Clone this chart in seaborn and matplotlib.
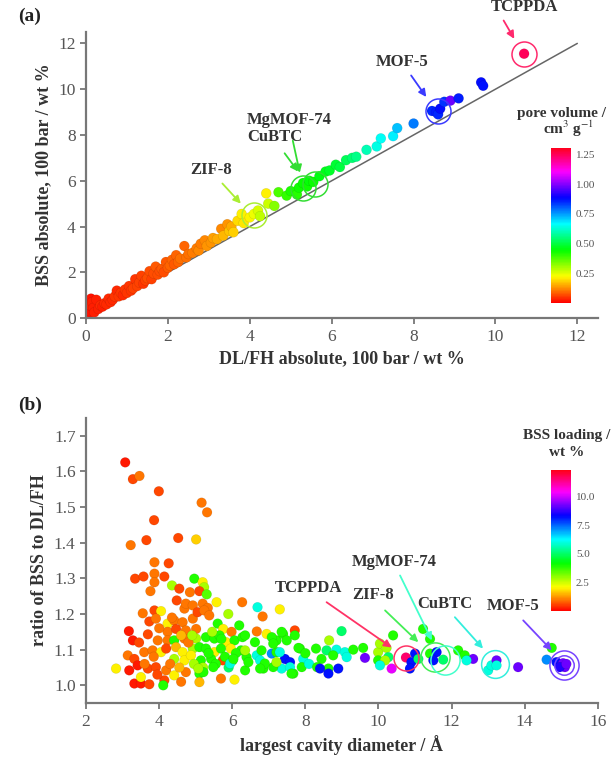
import numpy as np
import pandas as pd
import matplotlib
matplotlib.use('Agg')
import matplotlib.pyplot as plt
import seaborn as sns

# (a) absolute loadings at 100 bar, coloured by pore volume
a_dlfh = [0.05, 0.08, 0.10, 0.12, 0.15, 0.18, 0.20, 0.25, 0.30, 0.35, 0.40, 0.45, 0.50, 0.55, 0.60,
          0.65, 0.70, 0.75, 0.80, 0.85, 0.90, 0.95, 1.00, 1.05, 1.10, 1.15, 1.20, 1.25, 1.30, 1.35,
          1.40, 1.45, 1.50, 1.55, 1.60, 1.65, 1.70, 1.75, 1.80, 1.85, 1.90, 1.95, 2.00, 2.05, 2.10,
          2.15, 2.20, 2.25, 2.30, 2.40, 2.45, 2.50, 2.60, 2.70, 2.75, 2.80, 2.90, 2.95, 3.05, 3.10,
          3.20, 3.30, 3.35, 3.45, 3.50, 3.55, 3.60, 3.70, 3.80, 3.85, 4.00, 4.10, 4.20, 4.25, 4.40,
          4.45, 4.60, 4.70, 4.90, 5.00, 5.15, 5.20, 5.30, 5.40, 5.45, 5.55, 5.70, 5.85, 5.95, 6.10,
          6.20, 6.35, 6.50, 6.60, 6.85, 7.10, 7.20, 7.50, 7.60, 8.00, 8.45, 8.55, 8.60, 8.65, 8.75,
          8.90, 9.10, 9.65, 9.70, 10.70]
a_bss = [0.10, 0.30, 0.55, 0.85, 0.70, 0.45, 0.25, 0.80, 0.40, 0.55, 0.50, 0.65, 0.60, 0.85, 0.70,
         0.80, 0.95, 1.20, 0.95, 1.10, 1.00, 1.25, 1.10, 1.40, 1.20, 1.30, 1.70, 1.40, 1.55, 1.85,
         1.50, 1.65, 1.75, 2.05, 1.70, 1.95, 2.25, 1.90, 2.05, 2.15, 2.00, 2.45, 2.20, 2.30, 2.55,
         2.35, 2.75, 2.45, 2.60, 3.15, 2.65, 2.80, 2.85, 3.05, 2.95, 3.25, 3.40, 3.15, 3.30, 3.50,
         3.45, 3.90, 3.60, 4.10, 3.80, 4.00, 3.75, 4.25, 4.55, 4.15, 4.40, 4.55, 4.70, 4.45, 5.45,
         5.00, 4.90, 5.50, 5.35, 5.55, 5.40, 5.70, 5.90, 5.75, 6.00, 5.95, 6.20, 6.40, 6.45, 6.70,
         6.60, 6.90, 7.00, 7.05, 7.35, 7.50, 7.85, 7.95, 8.30, 8.50, 9.05, 9.00, 8.90, 9.15, 9.45,
         9.50, 9.60, 10.30, 10.15, 11.55]
a_pore = [0.02, 0.02, 0.03, 0.02, 0.03, 0.03, 0.03, 0.03, 0.03, 0.04, 0.03, 0.04, 0.04, 0.04, 0.04,
          0.04, 0.05, 0.04, 0.05, 0.05, 0.04, 0.05, 0.05, 0.05, 0.05, 0.06, 0.05, 0.06, 0.06, 0.06,
          0.05, 0.06, 0.07, 0.07, 0.06, 0.07, 0.08, 0.07, 0.07, 0.08, 0.07, 0.08, 0.08, 0.09, 0.09,
          0.08, 0.09, 0.09, 0.10, 0.09, 0.10, 0.10, 0.11, 0.11, 0.12, 0.11, 0.12, 0.13, 0.13, 0.14,
          0.15, 0.12, 0.16, 0.13, 0.17, 0.15, 0.18, 0.19, 0.21, 0.20, 0.22, 0.24, 0.26, 0.28, 0.21,
          0.27, 0.33, 0.38, 0.40, 0.42, 0.41, 0.43, 0.44, 0.43, 0.45, 0.44, 0.46, 0.47, 0.48, 0.49,
          0.50, 0.52, 0.54, 0.56, 0.60, 0.64, 0.66, 0.68, 0.72, 0.78, 0.85, 0.86, 0.85, 0.88, 0.84,
          0.98, 0.86, 0.88, 0.87, 1.25]

# (b) ratio BSS / DL-FH vs largest cavity diameter, coloured by BSS loading
b_lcd = [3.07, 3.28, 3.46, 3.99, 5.16, 5.31, 3.86, 3.22, 3.65, 4.52, 5.01, 3.87, 4.26, 3.34, 3.57,
         3.87, 4.14, 3.87, 3.76, 4.35, 4.55, 4.84, 4.96, 5.19, 5.23, 5.10, 5.30, 4.48, 4.69, 4.73,
         4.92, 5.19, 5.33, 5.57, 6.27, 5.89, 3.55, 3.87, 4.05, 3.73, 3.91, 3.17, 3.28, 3.69, 4.23,
         4.41, 4.64, 4.92, 5.05, 5.23, 5.37, 5.60, 5.75, 5.98, 6.19, 4.23, 4.46, 4.73, 5.01, 3.96,
         4.23, 4.41, 4.69, 5.01, 5.28, 5.51, 5.65, 5.83, 6.06, 6.28, 3.14, 3.32, 3.59, 3.82, 4.05,
         4.19, 4.46, 4.64, 4.92, 5.10, 5.28, 5.51, 5.69, 5.96, 6.24, 2.82, 3.18, 3.41, 3.69, 3.91,
         4.19, 4.41, 4.69, 4.87, 5.14, 5.42, 5.74, 6.01, 3.32, 3.50, 3.73, 3.50, 4.14, 4.11, 4.41,
         4.73, 5.10, 5.10, 5.69, 6.06, 4.30, 4.55, 4.80, 4.60, 5.20, 5.35, 5.55, 5.80, 5.90, 4.95,
         3.60, 3.85, 4.00, 4.35, 4.90, 5.45, 5.70, 6.10, 3.45, 3.95, 4.60,
         6.69, 6.83, 7.30, 6.67, 6.94, 7.71, 7.71, 6.35, 6.62, 7.21, 7.39, 7.08, 6.67, 7.44, 7.58,
         7.35, 7.94, 7.67, 7.90, 6.35, 6.85, 5.94, 6.03, 6.39, 6.76, 7.12, 5.48, 5.21, 5.07, 7.21,
         7.49, 7.85, 6.35, 6.80, 7.30, 6.44, 6.89, 7.21, 7.58, 6.76, 7.62, 7.35, 7.08, 7.12, 7.81,
         8.00, 8.10,
         8.99, 8.65, 8.29, 8.58, 8.85, 9.08, 9.31, 9.58, 9.63, 8.44, 8.76, 9.13, 8.32, 8.63, 8.90,
         8.63, 8.40, 9.99, 10.04, 10.22, 10.40, 10.27, 10.36, 9.99, 10.18, 10.04, 10.75, 11.00, 10.90,
         10.86, 11.09, 11.22, 11.41, 11.41, 11.59, 11.50, 11.77, 12.18, 12.36, 12.59, 12.41, 13.00,
         13.09, 13.23, 13.23, 13.82, 14.60, 14.74, 14.87, 15.01, 15.05, 15.10, 14.96, 15.14]
b_ratio = [1.625, 1.578, 1.587, 1.544, 1.512, 1.485, 1.463, 1.393, 1.407, 1.413, 1.409, 1.345, 1.342,
           1.299, 1.305, 1.313, 1.305, 1.289, 1.264, 1.280, 1.271, 1.261, 1.299, 1.289, 1.275, 1.264,
           1.255, 1.238, 1.215, 1.229, 1.224, 1.229, 1.217, 1.233, 1.233, 1.200, 1.202, 1.210, 1.208,
           1.179, 1.187, 1.152, 1.126, 1.143, 1.173, 1.182, 1.177, 1.187, 1.205, 1.210, 1.196, 1.173,
           1.158, 1.150, 1.168, 1.150, 1.158, 1.154, 1.158, 1.126, 1.126, 1.126, 1.131, 1.131, 1.135,
           1.131, 1.140, 1.121, 1.126, 1.135, 1.084, 1.074, 1.093, 1.098, 1.093, 1.103, 1.107, 1.093,
           1.103, 1.107, 1.103, 1.093, 1.103, 1.103, 1.098, 1.047, 1.042, 1.056, 1.047, 1.051, 1.042,
           1.074, 1.070, 1.084, 1.070, 1.074, 1.070, 1.070, 1.005, 1.005, 1.003, 1.023, 1.014, 1.000,
           1.028, 1.037, 1.033, 1.009, 1.019, 1.016, 1.060, 1.050, 1.120, 1.140, 1.050, 1.090, 1.060,
           1.080, 1.050, 1.060, 1.060, 1.080, 1.160, 1.190, 1.140, 1.150, 1.130, 1.090, 1.120, 1.030,
           1.010,
           1.219, 1.193, 1.213, 1.151, 1.144, 1.154, 1.140, 1.140, 1.121, 1.126, 1.144, 1.089, 1.084,
           1.074, 1.065, 1.047, 1.074, 1.033, 1.051, 1.042, 1.047, 1.061, 1.074, 1.079, 1.070, 1.051,
           1.051, 1.037, 1.047, 1.093, 1.126, 1.103, 1.098, 1.098, 1.093, 1.065, 1.061, 1.065, 1.051,
           1.047, 1.033, 1.150, 1.135, 1.117, 1.105, 1.090, 1.060,
           1.152, 1.126, 1.103, 1.098, 1.100, 1.093, 1.100, 1.105, 1.077, 1.074, 1.084, 1.079, 1.051,
           1.047, 1.047, 1.033, 1.047, 1.093, 1.117, 1.105, 1.140, 1.079, 1.047, 1.070, 1.070, 1.056,
           1.078, 1.089, 1.065, 1.047, 1.074, 1.158, 1.130, 1.089, 1.093, 1.070, 1.072, 1.098, 1.084,
           1.074, 1.070, 1.042, 1.056, 1.070, 1.056, 1.051, 1.072, 1.105, 1.065, 1.056, 1.062, 1.051,
           1.051, 1.060]
b_load = [0.2, 0.6, 1.0, 0.6, 1.0, 1.0, 0.6, 1.0, 0.6, 0.6, 1.7, 1.0, 0.6, 0.6, 0.6, 1.0, 0.6, 1.0,
          1.0, 2.8, 0.6, 1.0, 3.9, 2.0, 2.8, 0.6, 3.5, 0.6, 1.0, 1.0, 1.0, 1.0, 1.0, 2.0, 1.0, 2.8,
          1.0, 0.6, 2.0, 0.6, 1.0, 0.2, 0.2, 0.6, 2.0, 1.0, 1.0, 1.0, 0.6, 1.0, 1.0, 3.9, 2.0, 1.0,
          3.9, 1.0, 0.6, 1.0, 1.0, 1.0, 1.0, 3.9, 1.0, 2.8, 3.9, 3.9, 3.9, 2.0, 3.9, 3.9, 1.0, 0.6,
          1.0, 1.0, 2.0, 0.6, 1.5, 2.0, 2.8, 3.9, 3.9, 2.0, 3.9, 2.0, 3.9, 2.0, 0.2, 0.2, 0.6, 0.6,
          1.0, 2.8, 2.0, 2.0, 3.9, 3.9, 0.6, 3.9, 0.2, 0.2, 0.6, 2.0, 0.6, 3.9, 2.0, 1.0, 3.9, 1.5,
          1.0, 2.0, 1.0, 1.5, 1.0, 1.5, 2.8, 3.9, 3.9, 3.9, 5.0, 2.8, 1.0, 1.0, 1.0, 1.0, 2.8, 2.8,
          3.9, 3.9, 0.6, 0.6, 1.0,
          6.0, 1.0, 2.0, 1.0, 2.0, 0.6, 3.9, 3.9, 3.9, 3.9, 3.9, 7.2, 6.0, 8.2, 8.2, 6.0, 6.0, 3.9,
          3.9, 3.9, 3.9, 6.0, 3.9, 3.9, 6.0, 3.9, 3.9, 3.9, 2.8, 3.9, 3.9, 3.9, 2.8, 3.9, 6.0, 3.9,
          3.9, 2.8, 6.0, 3.9, 3.9, 3.9, 3.9, 3.9, 3.9, 3.9, 6.0,
          5.0, 2.8, 3.9, 5.0, 6.0, 6.0, 3.9, 3.9, 9.2, 3.9, 3.9, 6.0, 3.9, 3.9, 8.2, 8.2, 8.2, 2.8,
          2.8, 2.8, 3.9, 5.0, 10.2, 3.9, 2.8, 6.0, 11.6, 8.2, 8.2, 8.2, 5.0, 3.9, 3.9, 3.9, 8.2, 8.2,
          5.0, 3.9, 3.9, 9.2, 6.0, 6.0, 6.0, 9.2, 6.0, 9.2, 7.2, 3.9, 8.2, 9.2, 9.2, 9.2, 8.6, 9.2]

df_a = pd.DataFrame({'dlfh': a_dlfh, 'bss': a_bss, 'pore': a_pore})
df_b = pd.DataFrame({'lcd': b_lcd, 'ratio': b_ratio, 'load': b_load})

sns.set_style('ticks')
plt.rcParams['font.family'] = ['Liberation Serif', 'DejaVu Serif']
plt.rcParams['mathtext.fontset'] = 'stix'
grey = '#555555'
plt.rcParams['axes.edgecolor'] = '#777777'
plt.rcParams['axes.linewidth'] = 1.6
plt.rcParams['xtick.color'] = '#777777'
plt.rcParams['ytick.color'] = '#777777'
plt.rcParams['xtick.labelcolor'] = grey
plt.rcParams['ytick.labelcolor'] = grey

fig = plt.figure(figsize=(6.15, 7.61), dpi=100)
ax1 = fig.add_axes([0.140, 0.582, 0.832, 0.376])
ax2 = fig.add_axes([0.140, 0.076, 0.832, 0.375])
cax1 = fig.add_axes([0.896, 0.602, 0.0325, 0.204])
cax2 = fig.add_axes([0.896, 0.197, 0.0325, 0.185])

cmap = plt.get_cmap('hsv')
norm_a = matplotlib.colors.Normalize(0, 1.31)
norm_b = matplotlib.colors.Normalize(0, 12.3)
edge = (0, 0, 0, 0.12)

# ---- panel (a)
ax1.plot([0, 12], [0, 12], color='#666666', lw=1.1, zorder=1)
sns.scatterplot(data=df_a, x='dlfh', y='bss', hue='pore', palette='hsv', hue_norm=norm_a,
                s=52, edgecolor=edge, linewidth=0.4, legend=False, ax=ax1, zorder=2)
ax1.set_xlim(0, 12.5)
ax1.set_ylim(0, 12.5)
ax1.set_xticks(range(0, 13, 2))
ax1.set_yticks(range(0, 13, 2))
ax1.set_xlabel('DL/FH absolute, 100 bar / wt %', fontsize=13, fontweight='bold', color='#333333')
ax1.set_ylabel('BSS absolute, 100 bar / wt %', fontsize=13, fontweight='bold', color='#333333')

def arrow(ax, tail, head, col):
    ax.annotate('', xy=head, xytext=tail,
                arrowprops=dict(arrowstyle='-|>', color=col, lw=1.3, mutation_scale=11,
                                shrinkA=0, shrinkB=0),
                annotation_clip=False)

def mark(ax, label, tx, ty, tail, head, circ, col, ms=18, ha='center'):
    ax.text(tx, ty, label, ha=ha, va='center', fontsize=12, fontweight='bold',
            color='#333333', clip_on=False)
    arrow(ax, tail, head, col)
    for c in circ:
        ax.plot(c[0], c[1], 'o', ms=ms, mfc='none', mec=col, mew=1.1, zorder=4, clip_on=False)

mark(ax1, 'TCPPDA', 10.71, 13.6, (10.2, 13.0), (10.46, 12.2), [(10.7, 11.55)], '#ff2a6d')
mark(ax1, 'MOF-5', 7.73, 11.2, (7.94, 10.6), (8.31, 9.66), [(8.6, 9.05)], '#3b3bff')
ax1.text(3.93, 8.65, 'MgMOF-74', ha='left', va='center', fontsize=12, fontweight='bold', color='#333333')
mark(ax1, 'CuBTC', 3.93, 7.9, (5.05, 7.75), (5.22, 6.35), [(5.3, 5.7), (5.6, 5.85)], '#33dd33', ha='left')
arrow(ax1, (4.85, 7.2), (5.18, 6.4), '#33dd33')
mark(ax1, 'ZIF-8', 3.05, 6.45, (3.33, 5.88), (3.78, 5.0), [(4.1, 4.5)], '#aaee33')

sm_a = matplotlib.cm.ScalarMappable(norm=norm_a, cmap=cmap)
cb1 = fig.colorbar(sm_a, cax=cax1, ticks=[0.25, 0.5, 0.75, 1.0, 1.25])
cb1.ax.set_yticklabels(['0.25', '0.50', '0.75', '1.00', '1.25'])
cb1.ax.tick_params(labelsize=8, length=0, labelcolor=grey)
cb1.outline.set_visible(False)
fig.text(0.913, 0.851, 'pore volume /', ha='center', va='center', fontsize=11, fontweight='bold', color='#333333')
fig.text(0.925, 0.831, r'cm$^3$ g$^{-1}$', ha='center', va='center', fontsize=11, fontweight='bold', color='#333333')

# ---- panel (b)
sns.scatterplot(data=df_b, x='lcd', y='ratio', hue='load', palette='hsv', hue_norm=norm_b,
                s=50, edgecolor=edge, linewidth=0.4, legend=False, ax=ax2, zorder=2)
ax2.set_xlim(2, 16)
ax2.set_ylim(0.95, 1.75)
ax2.set_xticks(range(2, 17, 2))
ax2.set_yticks([1.0, 1.1, 1.2, 1.3, 1.4, 1.5, 1.6, 1.7])
ax2.set_xlabel('largest cavity diameter / Å', fontsize=13, fontweight='bold', color='#333333')
ax2.set_ylabel('ratio of BSS to DL/FH', fontsize=13, fontweight='bold', color='#333333')

mark(ax2, 'TCPPDA', 8.08, 1.272, (8.58, 1.233), (10.36, 1.106), [(10.75, 1.078)], '#ff3366', ms=18)
mark(ax2, 'ZIF-8', 9.85, 1.252, (10.18, 1.21), (11.09, 1.121), [(11.54, 1.079)], '#44ee55', ms=21)
mark(ax2, 'MgMOF-74', 10.42, 1.345, (10.59, 1.308), (11.46, 1.126), [(11.82, 1.072)], '#44ffcc', ms=21)
mark(ax2, 'CuBTC', 11.82, 1.229, (12.09, 1.191), (12.86, 1.103), [(13.18, 1.061)], '#33eedd', ms=20)
mark(ax2, 'MOF-5', 13.68, 1.221, (13.96, 1.182), (14.74, 1.098), [(15.08, 1.058)], '#7744ff', ms=21)
ax2.plot(15.08, 1.058, 'o', ms=14, mfc='none', mec='#7744ff', mew=1.1, zorder=4)

sm_b = matplotlib.cm.ScalarMappable(norm=norm_b, cmap=cmap)
cb2 = fig.colorbar(sm_b, cax=cax2, ticks=[2.5, 5.0, 7.5, 10.0])
cb2.ax.tick_params(labelsize=8, length=0, labelcolor=grey)
cb2.outline.set_visible(False)
fig.text(0.921, 0.428, 'BSS loading /', ha='center', va='center', fontsize=11, fontweight='bold', color='#333333')
fig.text(0.921, 0.406, 'wt %', ha='center', va='center', fontsize=11, fontweight='bold', color='#333333')

for ax in (ax1, ax2):
    sns.despine(ax=ax)
    ax.tick_params(labelsize=12.5, length=4, width=1.3)

fig.text(0.03, 0.978, '(a)', fontsize=14, fontweight='bold', color='#222222', va='center')
fig.text(0.03, 0.467, '(b)', fontsize=14, fontweight='bold', color='#222222', va='center')

fig.savefig('out.png', dpi=100)
